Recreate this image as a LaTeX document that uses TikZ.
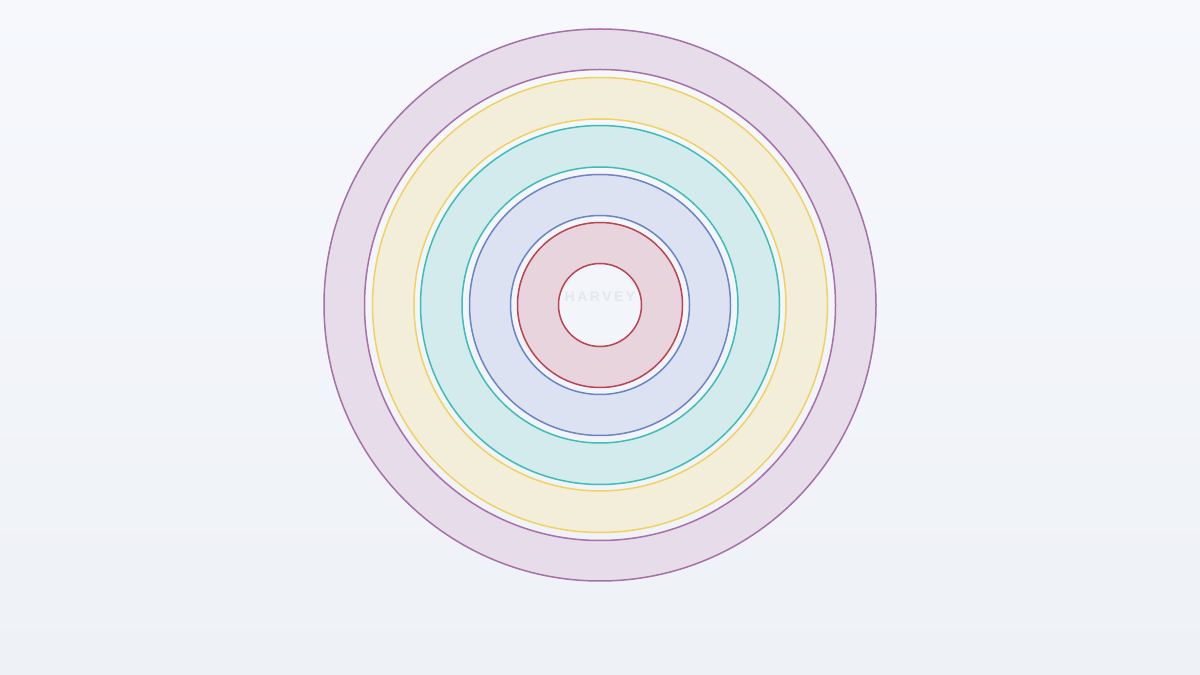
\documentclass[tikz,border=0pt]{standalone}
\usepackage{fontspec}
\setmainfont{Liberation Sans}
\usetikzlibrary{calc}
\definecolor{bgtop}{HTML}{F6F8FC}
\definecolor{bgbot}{HTML}{EEF1F6}
\definecolor{purpleline}{HTML}{A670A8}
\definecolor{purplefill}{HTML}{E7DCEA}
\definecolor{yellowline}{HTML}{F0D262}
\definecolor{yellowfill}{HTML}{F3EED9}
\definecolor{tealline}{HTML}{3DBDB6}
\definecolor{tealfill}{HTML}{D3EBEC}
\definecolor{blueline}{HTML}{6A84C4}
\definecolor{bluefill}{HTML}{DCE2F1}
\definecolor{redline}{HTML}{B84455}
\definecolor{redfill}{HTML}{E8D4DC}
\begin{document}
\begin{tikzpicture}[x=1pt,y=1pt,
    ring/.style={fill=#1fill,even odd rule},
    ringline/.style={draw=#1line,line width=1.5pt}]
        \useasboundingbox (0,0) rectangle (1200,675);
        \shade[top color=bgtop,bottom color=bgbot] (0,0) rectangle (1200,675);
        \coordinate (c) at (600,370);
        %由外到內的五個環
        \fill[ring=purple] (c) circle (276) circle (235.5);
        \draw[ringline=purple] (c) circle (276) (c) circle (235.5);
        \fill[ring=yellow] (c) circle (227.5) circle (186);
        \draw[ringline=yellow] (c) circle (227.5) (c) circle (186);
        \fill[ring=teal] (c) circle (179.5) circle (138);
        \draw[ringline=teal] (c) circle (179.5) (c) circle (138);
        \fill[ring=blue] (c) circle (130.5) circle (89.5);
        \draw[ringline=blue] (c) circle (130.5) (c) circle (89.5);
        \fill[ring=red] (c) circle (82.5) circle (41.5);
        \draw[ringline=red] (c) circle (82.5) (c) circle (41.5);
        \node[text=bgbot!96!black,font=\bfseries\fontsize{14}{14}\selectfont\addfontfeature{LetterSpace=18}] (mark) at (600,378) {HARVEY};
        \end{tikzpicture}
\end{document}
